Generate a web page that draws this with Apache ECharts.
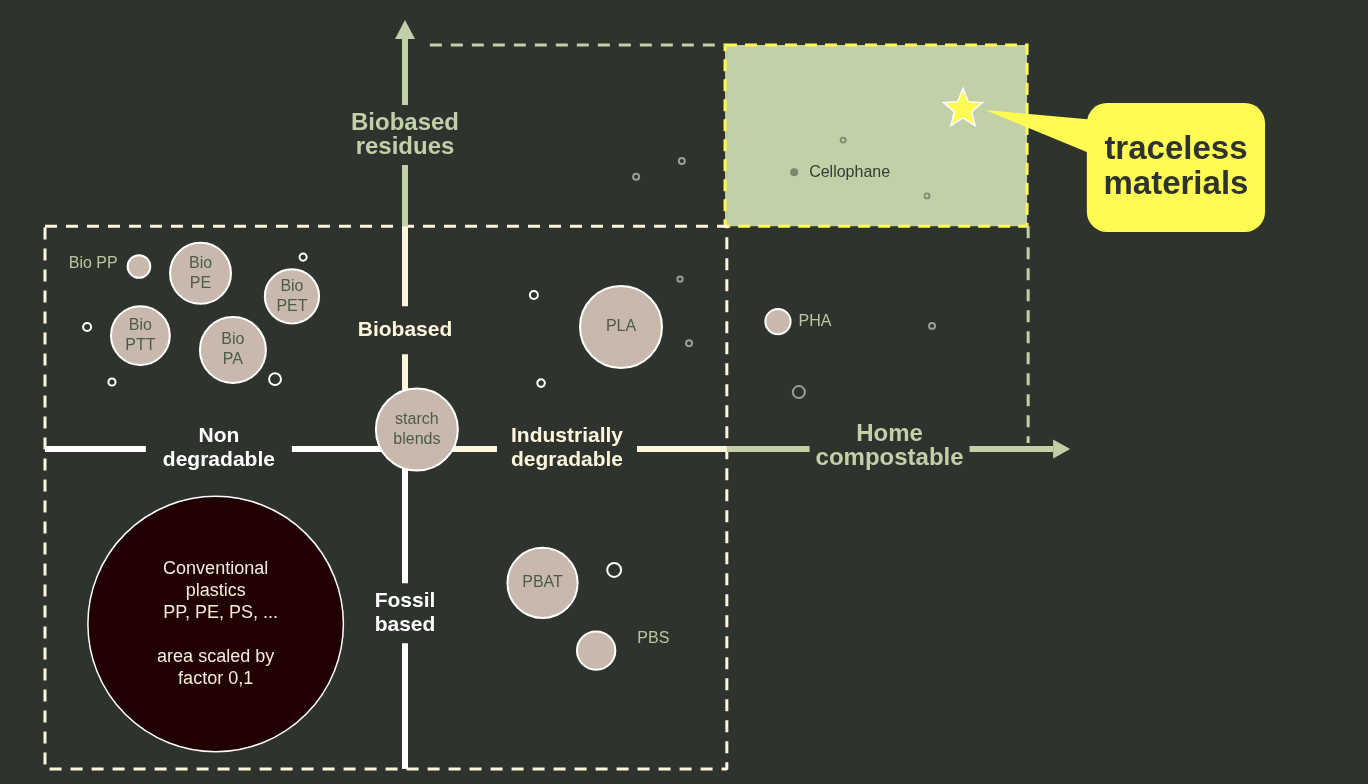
<!DOCTYPE html>
<html>
<head>
<meta charset="utf-8">
<script src="https://cdn.jsdelivr.net/npm/echarts@6/dist/echarts.min.js"></script>
<style>
html,body{margin:0;padding:0;background:#2e332e;}
#chart{width:1368px;height:784px;}
</style>
</head>
<body>
<div id="chart"></div>
<script>
// ================= DATA (conceptual units: x = degradability, y = biobased origin) =================
const materials     = ['Bio PP','Bio PE','Bio PET','Bio PTT','Bio PA','starch blends','PLA','PHA','PBAT','PBS','Cellophane'];
const labelTexts    = ['Bio PP','Bio\nPE','Bio\nPET','Bio\nPTT','Bio\nPA','starch\nblends','PLA','PHA','PBAT','PBS','Cellophane'];
const degradability = [-7.39,-5.68,-3.14,-7.35,-4.78, 0.33, 6.00,10.36, 3.82, 5.31,10.81];
const biobased      = [ 5.07, 4.88, 4.24, 3.15, 2.75, 0.54, 3.39, 3.54,-3.72,-5.60, 7.69];
const volume        = [    8,   58,   46,   54,   68,  105,  105,   10,   77,   23,    1];

const conventionalName   = 'Conventional plastics';
const conventionalText   = 'Conventional\nplastics\n  PP, PE, PS, ...\n\narea scaled by\nfactor 0,1';
const conventionalPoint  = [-5.26, -4.86];
const conventionalVolume = 1020;

// minor (unlabelled) materials
const minorWhiteX   = [-2.83,-8.83,-8.14,-3.61, 3.58, 3.78, 5.81];
const minorWhiteY   = [ 5.33, 3.39, 1.86, 1.94, 4.28, 1.83,-3.36];
const minorWhiteVol = [ 0.8,  1.0,  0.8,  2.2,  1.0,  0.9,  3.0];
const minorGreyX    = [ 7.69, 6.42, 7.64, 7.89,14.64,10.94];
const minorGreyY    = [ 8.00, 7.56, 4.72, 2.94, 3.42, 1.58];
const minorGreyVol  = [ 0.56, 0.56, 0.45, 0.56, 0.56, 2.25];
const minorZoneX    = [12.17,14.50];
const minorZoneY    = [ 8.58, 7.03];
const minorZoneVol  = [ 0.4,  0.4];

// axes (stops along each axis) and arrow heads
const hAxisStops = [-10, 0, 8.94, 18.0];
const vAxisStops = [-8.89, 0, 6.19, 11.39];
const arrowHeads = [[0, 11.65], [18.24, 0]];

// quadrant / axis labels
const axisLabels  = ['Non\ndegradable','Industrially\ndegradable','Home\ncompostable','Biobased','Fossil\nbased','Biobased\nresidues'];
const axisLabelX  = [-5.17, 4.50, 13.46, 0, 0, 0];
const axisLabelY  = [ 0.03, 0.03, 0.06, 3.30, -4.56, 8.72];

// zones
const conventionalZoneX = [-10, 8.94];
const conventionalZoneY = [-8.89, 6.19];
const residuesTopX = [0.69, 8.89];
const residuesTopY = 11.22;
const residuesRightX = 17.31;
const residuesRightY = [6.19, 0.17];
const tracelessZone = [8.89, 6.19, 17.28, 11.22];
const tracelessStar = [15.5, 9.5];
const calloutBox = [18.94, 6.03, 23.89, 9.61];
const calloutTip = [16.11, 9.42];
const calloutText = 'traceless\nmaterials';

// ================= STYLE =================
const FONT = "'Liberation Sans', Arial, Helvetica, sans-serif";
const BG = '#2e332e';
const WHITE = '#ffffff', CREAM = '#fdf6dc', GREEN = '#c2d0a8', YELLOW = '#fffb52';
const BUBBLE = '#c9b9ac', BUBBLE_TXT = '#4b5c4c', EXT_TXT = '#b8c7a0';

const sizeOf = v => 8 * Math.sqrt(v);

function lineSeries(points, color, width, dash, z) {
  return {
    type: 'line', data: points, symbol: 'none', showSymbol: false, silent: true,
    animation: false, z: z, clip: false,
    lineStyle: { color: color, width: width, type: dash || 'solid', cap: 'butt', opacity: 1 }
  };
}

const series = [];

// traceless zone (filled, yellow dashed border)
series.push({
  type: 'custom', silent: true, z: 1, animation: false,
  data: [tracelessZone],
  renderItem: function (params, api) {
    const a = api.coord([api.value(0), api.value(3)]);
    const b = api.coord([api.value(2), api.value(1)]);
    return {
      type: 'rect',
      shape: { x: a[0], y: a[1], width: b[0] - a[0], height: b[1] - a[1] },
      style: { fill: GREEN, stroke: YELLOW, lineWidth: 3, lineDash: [12, 8] }
    };
  }
});

// dashed frames
series.push(lineSeries([
  [conventionalZoneX[0], conventionalZoneY[1]], [conventionalZoneX[1], conventionalZoneY[1]],
  [conventionalZoneX[1], conventionalZoneY[0]], [conventionalZoneX[0], conventionalZoneY[0]],
  [conventionalZoneX[0], conventionalZoneY[1]]
], CREAM, 3, [12, 9], 2));
series.push(lineSeries([[residuesTopX[0], residuesTopY], [residuesTopX[1], residuesTopY]], GREEN, 3, [12, 9], 2));
series.push(lineSeries([[residuesRightX, residuesRightY[0]], [residuesRightX, residuesRightY[1]]], GREEN, 3, [12, 9], 2));

// axes
const segColors = [WHITE, CREAM, GREEN];
for (let i = 0; i < 3; i++) {
  series.push(lineSeries([[hAxisStops[i], 0], [hAxisStops[i + 1], 0]], segColors[i], 6, null, 3));
  series.push(lineSeries([[0, vAxisStops[i]], [0, vAxisStops[i + 1]]], segColors[i], 6, null, 3));
}
series.push({
  type: 'scatter', silent: true, z: 3, animation: false,
  data: [
    { value: arrowHeads[0], symbol: 'triangle', symbolSize: [20, 19] },
    { value: arrowHeads[1], symbol: 'triangle', symbolSize: [19, 17], symbolRotate: -90 }
  ],
  itemStyle: { color: GREEN, opacity: 1 }
});

// axis labels (with background to cut the axis line)
const labelStyles = [
  { color: WHITE, size: 21, pad: [1, 17] },
  { color: CREAM, size: 21, pad: [1, 14] },
  { color: GREEN, size: 24, pad: [1, 6] },
  { color: CREAM, size: 21, pad: [12, 4] },
  { color: WHITE, size: 21, pad: [6, 4] },
  { color: GREEN, size: 24, pad: [6, 4] }
];
series.push({
  type: 'custom', silent: true, z: 4, animation: false,
  data: axisLabels.map((t, i) => [axisLabelX[i], axisLabelY[i], i]),
  renderItem: function (params, api) {
    const p = api.coord([api.value(0), api.value(1)]);
    const i = api.value(2);
    const s = labelStyles[i];
    return {
      type: 'text',
      style: {
        text: axisLabels[i], x: p[0], y: p[1], align: 'center', verticalAlign: 'middle',
        fill: s.color, font: 'bold ' + s.size + 'px ' + FONT, lineHeight: 24,
        backgroundColor: BG, padding: s.pad
      }
    };
  }
});

// minor materials
function minorSeries(xs, ys, vs, color, width) {
  return {
    type: 'scatter', silent: true, z: 5, animation: false,
    data: xs.map((x, i) => [x, ys[i], vs[i]]),
    symbolSize: v => sizeOf(v[2]),
    itemStyle: { color: 'rgba(0,0,0,0)', borderColor: color, borderWidth: width, opacity: 1 }
  };
}
series.push(minorSeries(minorWhiteX, minorWhiteY, minorWhiteVol, WHITE, 2));
series.push(minorSeries(minorGreyX, minorGreyY, minorGreyVol, '#9a9d98', 2));
series.push(minorSeries(minorZoneX, minorZoneY, minorZoneVol, '#7d8a74', 1.8));

// main bubbles
const externalLabel = {
  'Bio PP':     { position: 'left',  distance: 9,  offset: [0, -3] },
  'PHA':        { position: 'right', distance: 7,  offset: [0, 0] },
  'PBS':        { position: 'right', distance: 21, offset: [0, -12] },
  'Cellophane': { position: 'right', distance: 11, offset: [0, 0] }
};
const bubbleData = materials.map((m, i) => {
  const item = { name: m, value: [degradability[i], biobased[i], volume[i]] };
  const ext = externalLabel[m];
  item.label = {
    show: true, formatter: labelTexts[i], fontFamily: FONT, fontSize: 16, lineHeight: 20,
    position: ext ? ext.position : 'inside', distance: ext ? ext.distance : 0,
    offset: ext ? ext.offset : [0, 0], color: ext ? EXT_TXT : BUBBLE_TXT
  };
  if (m === 'Cellophane') {
    item.itemStyle = { color: '#7b8770', borderWidth: 0, opacity: 1 };
    item.label.color = '#353c35';
  }
  return item;
});
bubbleData.push({
  name: conventionalName,
  value: [conventionalPoint[0], conventionalPoint[1], conventionalVolume],
  itemStyle: { color: '#200000', borderColor: WHITE, borderWidth: 1.5, opacity: 1 },
  label: {
    show: true, position: 'inside', formatter: conventionalText, fontFamily: FONT,
    fontSize: 18, lineHeight: 22, color: '#f4ecd9'
  }
});
series.push({
  type: 'scatter', silent: true, z: 6, animation: false,
  data: bubbleData,
  symbolSize: v => sizeOf(v[2]),
  itemStyle: { color: BUBBLE, borderColor: WHITE, borderWidth: 2, opacity: 1 }
});

// star
const STAR = 'path://M50,0 L62.93,32.2 L97.55,34.55 L70.92,56.8 L79.39,90.45 L50,72 L20.61,90.45 L29.08,56.8 L2.45,34.55 L37.07,32.2 Z';
series.push({
  type: 'scatter', silent: true, z: 7, animation: false,
  data: [tracelessStar],
  symbol: STAR, symbolSize: [39, 37],
  itemStyle: { color: YELLOW, borderColor: WHITE, borderWidth: 1.5, opacity: 1 }
});

// callout
series.push({
  type: 'custom', silent: true, z: 7, animation: false,
  data: [[calloutBox[0], calloutBox[1], calloutBox[2], calloutBox[3], calloutTip[0], calloutTip[1]]],
  renderItem: function (params, api) {
    const tl = api.coord([api.value(0), api.value(3)]);
    const br = api.coord([api.value(2), api.value(1)]);
    const tip = api.coord([api.value(4), api.value(5)]);
    const w = br[0] - tl[0], h = br[1] - tl[1];
    return {
      type: 'group',
      children: [
        { type: 'polygon', shape: { points: [tip, [tl[0] + 6, tl[1] + h * 0.13], [tl[0] + 6, tl[1] + h * 0.40]] }, style: { fill: YELLOW } },
        { type: 'rect', shape: { x: tl[0], y: tl[1], width: w, height: h, r: 20 }, style: { fill: YELLOW } },
        { type: 'text', style: {
            text: calloutText, x: tl[0] + w / 2, y: tl[1] + h / 2, align: 'center', verticalAlign: 'middle',
            fill: '#2e332e', font: 'bold 33px ' + FONT, lineHeight: 35 } }
      ]
    };
  }
});

const chart = echarts.init(document.getElementById('chart'), null, { renderer: 'canvas' });
chart.setOption({
  backgroundColor: BG,
  animation: false,
  grid: { left: 0, right: 0, top: 0, bottom: 0, containLabel: false },
  xAxis: { type: 'value', min: -11.25, max: 26.75, show: false },
  yAxis: { type: 'value', min: -9.3056, max: 12.4722, show: false },
  series: series
});
</script>
</body>
</html>
